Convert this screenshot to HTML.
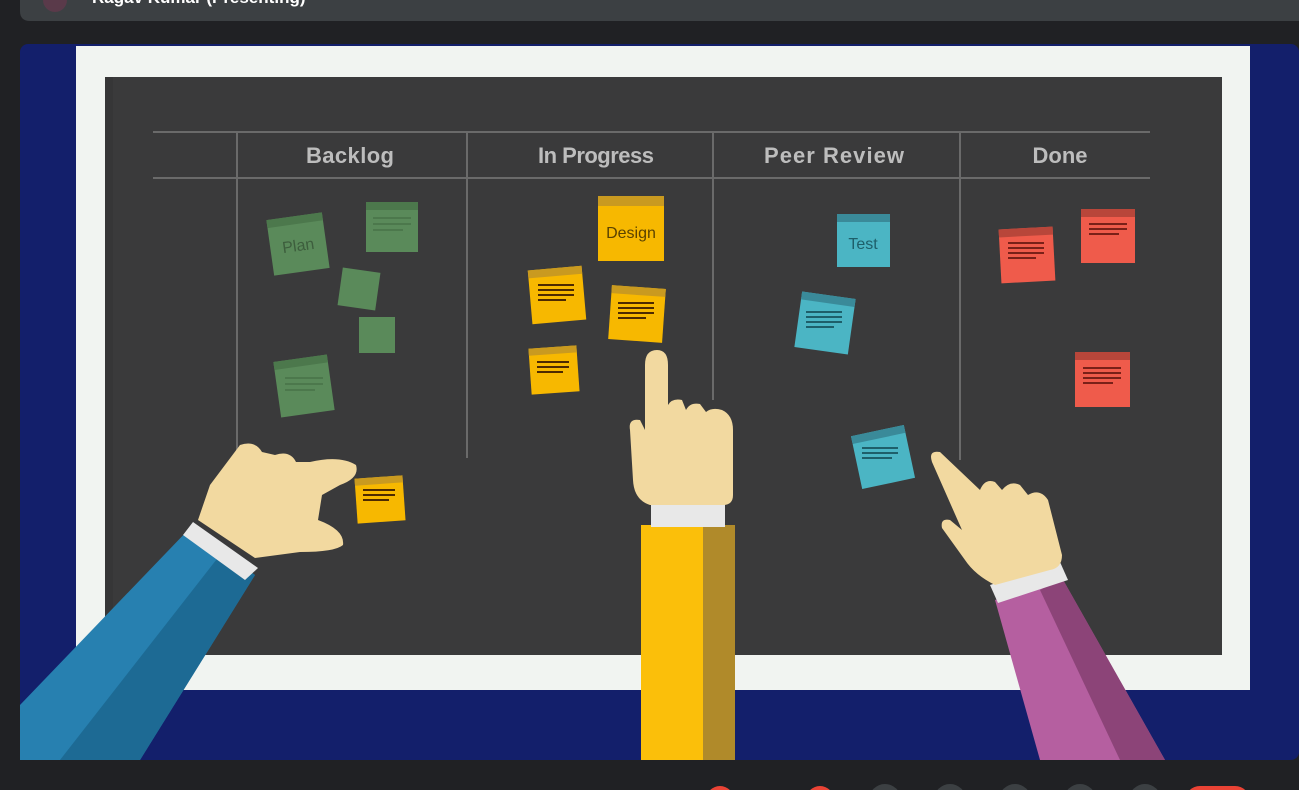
<!DOCTYPE html>
<html><head><meta charset="utf-8"><style>
html,body{margin:0;padding:0;background:#202124;width:1299px;height:790px;overflow:hidden}
svg{display:block}
</style></head><body>
<svg width="1299" height="790" viewBox="0 0 1299 790" xmlns="http://www.w3.org/2000/svg" font-family="Liberation Sans, sans-serif">
<rect width="1299" height="790" fill="#202124"/>
<path d="M20 0H1299V21H30Q20 21 20 11Z" fill="#3c4043"/>
<circle cx="55" cy="0" r="12" fill="#5a3a4a"/>
<text x="92" y="3" fill="#fff" font-size="17" font-weight="bold">Ragav Kumar (Presenting)</text>
<rect x="20" y="44" width="1279" height="716" rx="8" fill="#131f6b"/>
<rect x="76" y="46" width="1174" height="644" fill="#f1f4f1"/>
<rect x="105" y="77" width="1117" height="578" fill="#3a3a3b"/>
<rect x="105" y="77" width="8" height="578" fill="#363637"/>
<g stroke="#6a6a6a" stroke-width="2">
<line x1="153" y1="132" x2="1150" y2="132"/><line x1="153" y1="178" x2="1150" y2="178"/>
<line x1="237" y1="132" x2="237" y2="455"/><line x1="467" y1="132" x2="467" y2="458"/>
<line x1="713" y1="132" x2="713" y2="400"/><line x1="960" y1="132" x2="960" y2="460"/>
</g>
<g fill="#bdbdbd" font-size="22" font-weight="bold" text-anchor="middle">
<text x="350" y="163" textLength="88">Backlog</text><text x="596" y="163" textLength="116">In Progress</text>
<text x="834" y="163" textLength="140">Peer Review</text><text x="1060" y="163">Done</text>
</g>
<g stroke-width="2">
<g transform="rotate(-8 298 244)"><rect x="270" y="216" width="56" height="56" fill="#5a8a5a"/><rect x="270" y="216" width="56" height="8" fill="#4c784c"/><text x="298" y="251" font-size="16" fill="#3d5e3d" text-anchor="middle">Plan</text></g>
<rect x="366" y="202" width="52" height="50" fill="#5a8a5a"/><rect x="366" y="202" width="52" height="8" fill="#4c784c"/>
<g transform="rotate(8 359 289)"><rect x="340" y="270" width="38" height="38" fill="#5a8a5a"/></g>
<rect x="359" y="317" width="36" height="36" fill="#5a8a5a"/>
<g transform="rotate(-8 304 386)"><rect x="277" y="358" width="54" height="56" fill="#5a8a5a"/><rect x="277" y="358" width="54" height="8" fill="#4c784c"/></g>
<rect x="598" y="196" width="66" height="65" fill="#f7b800"/><rect x="598" y="196" width="66" height="10" fill="#c99a20"/><text x="631" y="238" font-size="16" fill="#5a4200" text-anchor="middle">Design</text>
<g transform="rotate(-5 557 295)"><rect x="530" y="268" width="54" height="54" fill="#f7b800"/><rect x="530" y="268" width="54" height="8" fill="#c99a20"/></g>
<g transform="rotate(4 637 314)"><rect x="610" y="287" width="54" height="54" fill="#f7b800"/><rect x="610" y="287" width="54" height="8" fill="#c99a20"/></g>
<g transform="rotate(-4 554 370)"><rect x="530" y="347" width="48" height="46" fill="#f7b800"/><rect x="530" y="347" width="48" height="7" fill="#c99a20"/></g>
<g transform="rotate(-4 380 499)"><rect x="356" y="477" width="48" height="45" fill="#f7b800"/><rect x="356" y="477" width="48" height="7" fill="#c99a20"/></g>
<rect x="837" y="214" width="53" height="53" fill="#4bb5c4"/><rect x="837" y="214" width="53" height="8" fill="#3a8a99"/><text x="863" y="249" font-size="16" fill="#1e5f6a" text-anchor="middle">Test</text>
<g transform="rotate(8 825 323)"><rect x="798" y="295" width="54" height="56" fill="#4bb5c4"/><rect x="798" y="295" width="54" height="8" fill="#3a8a99"/></g>
<g transform="rotate(-12 883 457)"><rect x="856" y="430" width="54" height="54" fill="#4bb5c4"/><rect x="856" y="430" width="54" height="8" fill="#3a8a99"/></g>
<g transform="rotate(-3 1027 255)"><rect x="1000" y="228" width="54" height="54" fill="#ef5b4b"/><rect x="1000" y="228" width="54" height="8" fill="#b8463a"/></g>
<rect x="1081" y="209" width="54" height="54" fill="#ef5b4b"/><rect x="1081" y="209" width="54" height="8" fill="#b8463a"/>
<rect x="1075" y="352" width="55" height="55" fill="#ef5b4b"/><rect x="1075" y="352" width="55" height="8" fill="#b8463a"/>
</g>
<g stroke-width="2">
<g stroke="#4d2a00"><path d="M538 285h36M538 290h36M538 295h36M538 300h28"/><path d="M618 303h36M618 308h36M618 313h36M618 318h28"/><path d="M537 362h32M537 367h32M537 372h26"/><path d="M363 490h32M363 495h32M363 500h26"/></g>
<g stroke="#1e5f6a"><path d="M806 312h36M806 317h36M806 322h36M806 327h28"/><path d="M862 448h36M862 453h36M862 458h30"/></g>
<g stroke="#7a2018"><path d="M1008 243h36M1008 248h36M1008 253h36M1008 258h28"/><path d="M1089 224h38M1089 229h38M1089 234h30"/><path d="M1083 368h38M1083 373h38M1083 378h38M1083 383h30"/></g>
<g stroke="#4c784c"><path d="M373 218h38M373 224h38M373 230h30"/><path d="M285 378h38M285 384h38M285 390h30"/></g>
</g>
<polygon points="20,705 190,528 255,575 140,760 20,760" fill="#2780b0"/>
<polygon points="60,760 220,555 255,575 140,760" fill="#1d6a94"/>
<polygon points="193,522 258,568 245,580 183,535" fill="#e8e8e8"/>
<path d="M198 520 L210 485 L240 445 Q255 440 262 452 L275 455 Q290 450 296 462 L310 462 Q340 455 356 465 Q360 478 340 485 L322 495 L318 520 Q345 530 343 545 Q335 552 300 552 L255 558 Z" fill="#f2d9a0"/>
<rect x="641" y="525" width="94" height="235" fill="#fbbf0a"/>
<rect x="703" y="525" width="32" height="235" fill="#b08a2a"/>
<rect x="651" y="503" width="74" height="24" fill="#e8e8e8"/>
<path d="M645 365 Q645 350 657 350 Q668 350 668 365 L668 405 Q672 398 682 400 L686 410 Q690 402 700 404 L706 412 Q712 407 722 410 Q733 415 733 430 L733 495 Q733 505 723 505 L650 505 Q634 500 633 480 L630 430 Q628 418 640 420 L645 430 Z" fill="#f2d9a0"/>
<polygon points="995,600 1062,578 1165,760 1040,760" fill="#b55fa0"/>
<polygon points="1040,590 1062,578 1165,760 1120,760" fill="#8c4478"/>
<polygon points="990,585 1060,562 1068,580 998,603" fill="#e8e8e8"/>
<path d="M932 462 Q928 450 940 452 L980 490 Q985 478 995 482 L1002 490 Q1010 480 1020 485 L1028 495 Q1040 488 1048 500 L1062 555 Q1062 568 1050 570 L995 585 Q975 575 965 560 L942 528 Q940 518 950 520 L962 530 Z" fill="#f2d9a0"/>
<g fill="#3c4043"><circle cx="885" cy="800" r="16"/><circle cx="950" cy="800" r="16"/><circle cx="1015" cy="800" r="16"/><circle cx="1080" cy="800" r="16"/><circle cx="1145" cy="800" r="16"/></g>
<circle cx="720" cy="800" r="14" fill="#ea4335"/><circle cx="820" cy="800" r="14" fill="#ea4335"/>
<rect x="1185" y="786" width="65" height="30" rx="15" fill="#ea4335"/>
</svg>
</body></html>
